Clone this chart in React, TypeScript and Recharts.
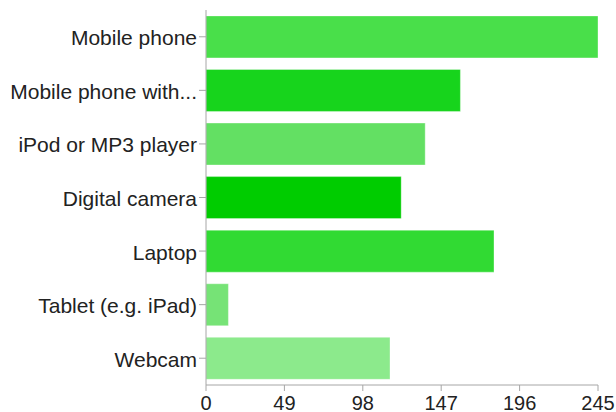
import React from 'react';
import { BarChart, Bar, XAxis, YAxis, Cell } from 'recharts';

const DEVICES = [
  'Mobile phone',
  'Mobile phone with...',
  'iPod or MP3 player',
  'Digital camera',
  'Laptop',
  'Tablet (e.g. iPad)',
  'Webcam',
];
const COUNTS = [245, 159, 137, 122, 180, 14, 115];
const X_TICKS = [0, 49, 98, 147, 196, 245];

const COLORS = ['#49df4a', '#17d41c', '#63e063', '#00cc00', '#31da33', '#76e376', '#8cea8c'];
const AXIS = '#a6a6a6';
const FONT = '"Liberation Sans", Arial, Helvetica, sans-serif';

const data = DEVICES.map((name, i) => ({ name, count: COUNTS[i] }));

function DeviceTick({ x, y, payload }: { x?: number; y?: number; payload?: { value: string } }) {
  return (
    <text x={x} y={y} dy={8.5} textAnchor="end" fontSize={21} fill="#222" fontFamily={FONT}>
      {payload?.value}
    </text>
  );
}

export default function App() {
  return (
    <div style={{ position: 'absolute', left: 0, top: 0, width: 616, height: 412, background: '#fff' }}>
      <BarChart
        width={616}
        height={412}
        data={data}
        layout="vertical"
        margin={{ top: 10, right: 18, left: 0, bottom: 0 }}
        barCategoryGap="11%"
      >
        <XAxis
          type="number"
          domain={[0, 245]}
          ticks={X_TICKS}
          interval={0}
          height={27}
          tickSize={6}
          tickMargin={5}
          stroke={AXIS}
          tick={{ fontSize: 20, fill: '#222', fontFamily: FONT }}
        />
        <YAxis
          type="category"
          dataKey="name"
          width={206}
          interval={0}
          tickSize={7}
          tickMargin={2}
          stroke={AXIS}
          tick={<DeviceTick />}
        />
        <Bar dataKey="count" isAnimationActive={false} stroke="rgba(255,255,255,0.35)" strokeWidth={1}>
          {data.map((d, i) => (
            <Cell key={`cell-${d.name}`} fill={COLORS[i]} />
          ))}
        </Bar>
      </BarChart>
    </div>
  );
}
